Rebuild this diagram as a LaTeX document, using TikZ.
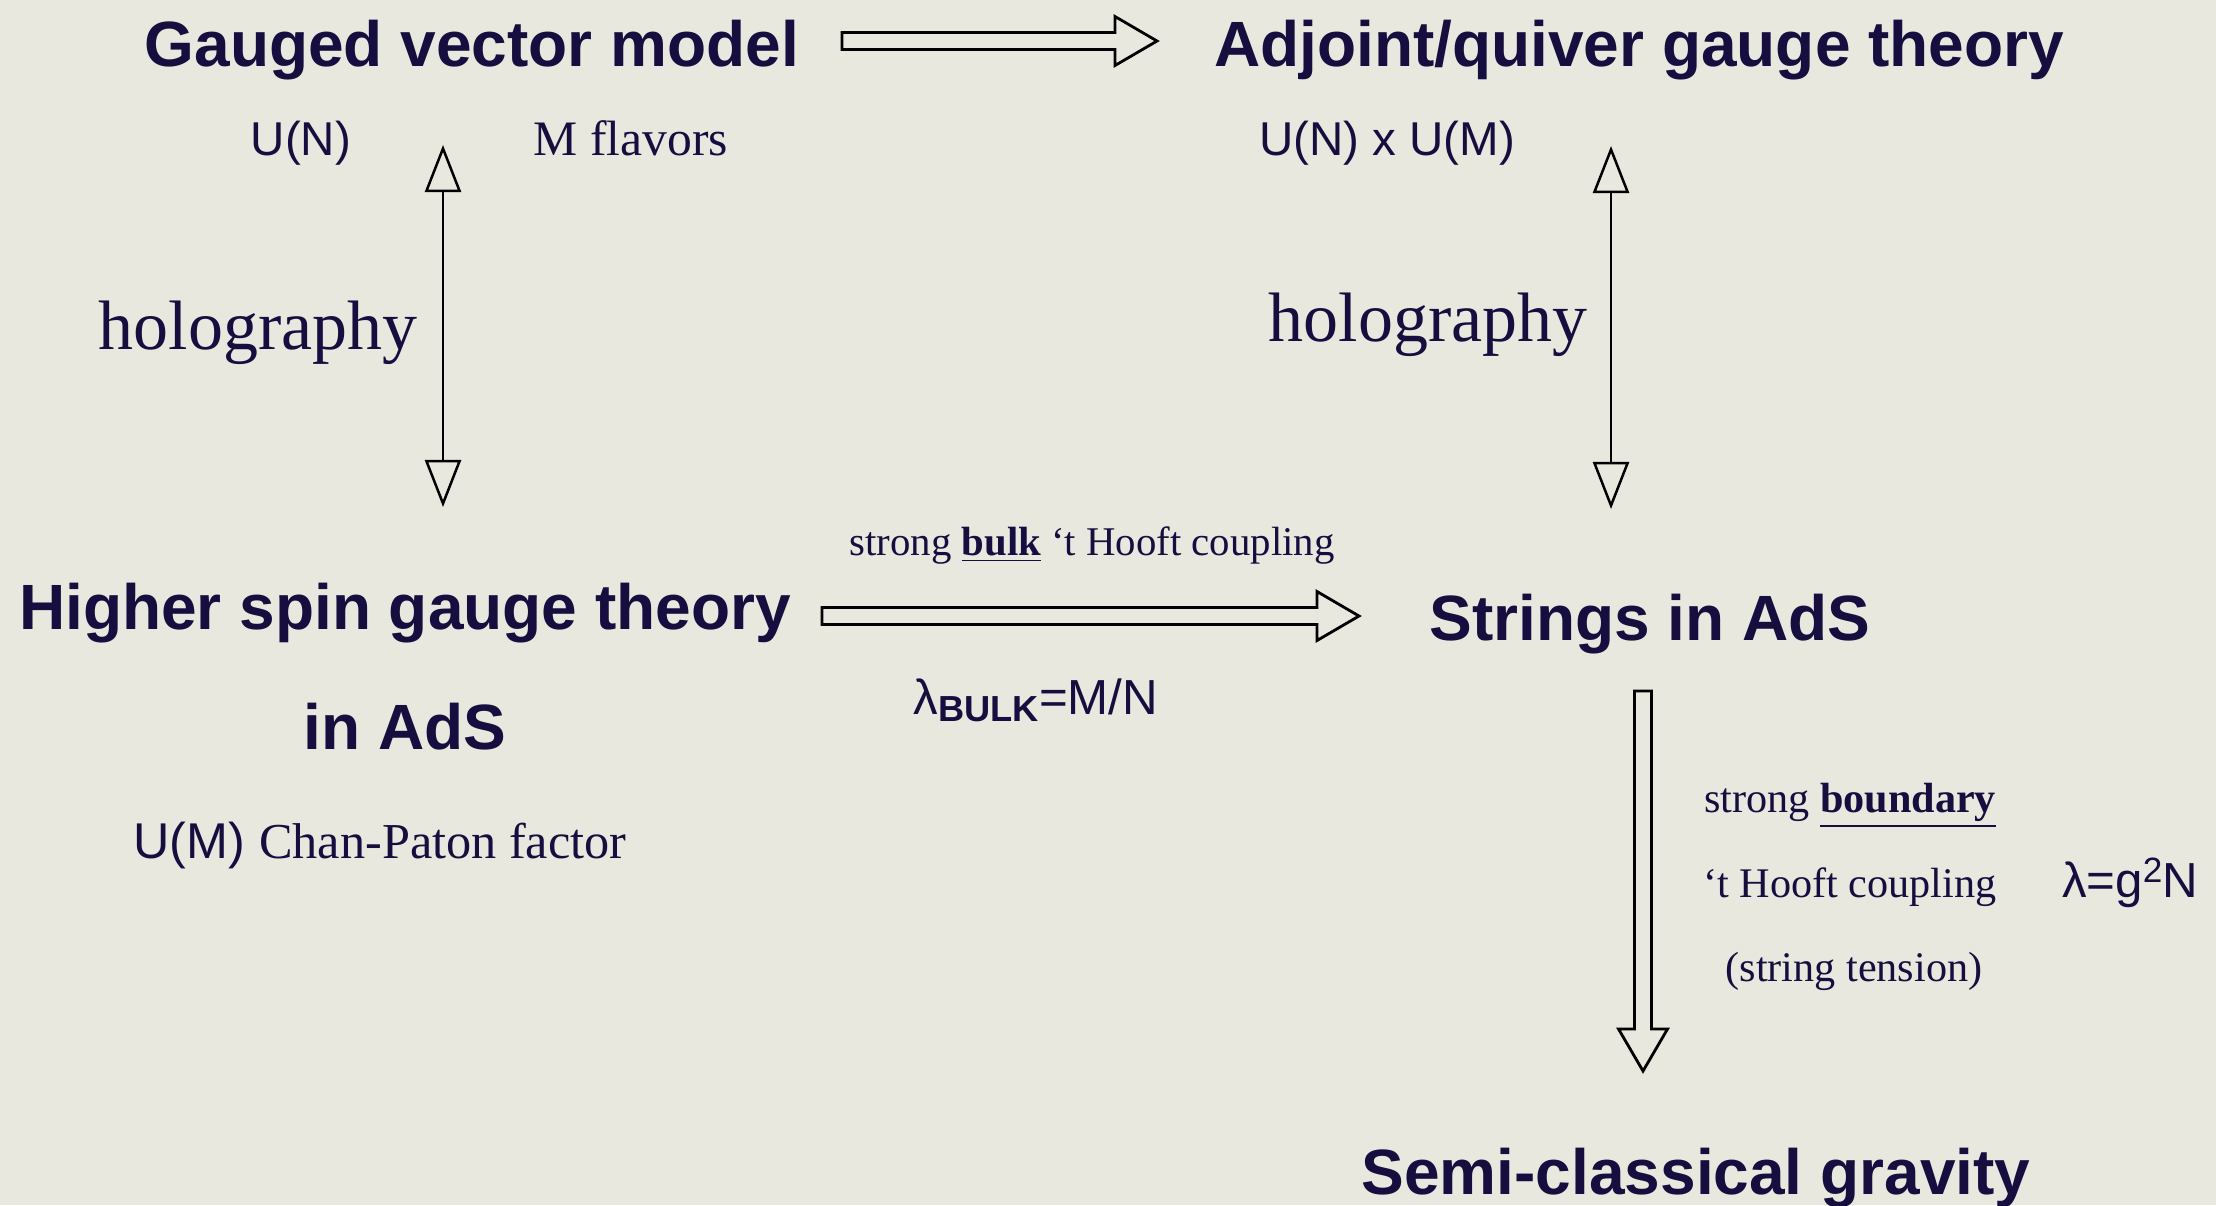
\documentclass[tikz,border=0pt]{standalone}
\usepackage{fontspec}
\setmainfont{Liberation Serif}
\setsansfont{Liberation Sans}
\usetikzlibrary{arrows.meta,calc}

\definecolor{ink}{RGB}{22,14,62}
\definecolor{paper}{RGB}{232,232,223}

\tikzset{
  title/.style={font=\sffamily\bfseries\fontsize{18.2}{22}\selectfont},
  group/.style={font=\sffamily\fontsize{13.5}{16}\selectfont},
  holo/.style={font=\fontsize{19.9}{24}\selectfont},
  remark/.style={font=\fontsize{12}{14}\selectfont},
  coupling/.style={font=\sffamily\fontsize{14}{16}\selectfont},
  fatarrow/.style={line width=0.28mm, line join=miter, to path={
    let \p1=(\tikztostart), \p2=(\tikztotarget),
        \n1={atan2(\y2-\y1,\x2-\x1)} in
    ($(\p1)+({\n1+90}:0.85mm)$)
    -- ($(\p2)+({\n1+180}:4.2mm)+({\n1+90}:0.85mm)$) -- ++({\n1+90}:1.6mm)
    -- (\p2)
    -- ($(\p2)+({\n1+180}:4.2mm)+({\n1-90}:2.45mm)$) -- ++({\n1+90}:1.6mm)
    -- ($(\p1)+({\n1-90}:0.85mm)$) -- cycle}},
  thinarrow/.style={line width=0.25mm,
    {Triangle[open,length=4.7mm,width=3.6mm]}-{Triangle[open,length=4.7mm,width=3.6mm]}},
}

\begin{document}
\begin{tikzpicture}[x=0.01cm,y=-0.01cm,
  every node/.style={text=ink,inner sep=0pt,anchor=base}]
\useasboundingbox (0,0) rectangle (2216,1205);
\fill[paper] (0,0) rectangle (2216,1205);

% the four corners of the square
\node[title] (gauged) at (472,66) {Gauged vector model};
\node[title] (adjoint) at (1639,66) {Adjoint/quiver gauge theory};
\node[title] (higher) at (405,629) {Higher spin gauge theory};
\node[title] (inads) at (405,749) {in AdS};
\node[title] (strings) at (1650,640) {Strings in AdS};
\node[title] (semi) at (1696,1194) {Semi-classical gravity};

% groups and remarks
\node[group] (un) at (301,155) {U(N)};
\node[remark,font=\fontsize{14.1}{16}\selectfont] (flavors) at (631,155) {M flavors};
\node[group] (unum) at (1387,155) {U(N) x U(M)};
\node[holo] (holoL) at (258,349) {holography};
\node[holo] (holoR) at (1428,341) {holography};
\node[remark,font=\fontsize{14.3}{16}\selectfont] (chan) at (380,858)
  {\sffamily U(M) \rmfamily Chan-Paton factor};

\node[remark,font=\fontsize{11.6}{14}\selectfont] (bulk) at (1092,555)
  {strong \textbf{\underline{bulk}} ‘t Hooft coupling};
\node[coupling] (lbulk) at (1036,714)
  {λ\raisebox{-0.3ex}{\fontsize{10.3}{12}\selectfont\bfseries BULK}=M/N};

\node[remark] (boundary) at (1850,812) {strong \textbf{\underline{boundary}}};
\node[remark] (thooft) at (1850,897) {‘t Hooft coupling};
\node[remark] (tension) at (1854,981) {(string tension)};
\node[coupling] (lg) at (2130,897) {λ=g\raisebox{0.55ex}{\fontsize{10}{12}\selectfont 2}N};

% arrow ends
\coordinate (a1) at (842,41);
\coordinate (a2) at (1157,41);
\coordinate (b1) at (822,616);
\coordinate (b2) at (1359,616);
\coordinate (c1) at (1643,691);
\coordinate (c2) at (1643,1071);
\coordinate (h1) at (443,145);
\coordinate (h2) at (443,507);
\coordinate (k1) at (1611,146);
\coordinate (k2) at (1611,509);

\draw[fatarrow] (a1) to (a2);
\draw[fatarrow] (b1) to (b2);
\draw[fatarrow] (c1) to (c2);
\draw[thinarrow] (h1) -- (h2);
\draw[thinarrow] (k1) -- (k2);
\end{tikzpicture}
\end{document}
